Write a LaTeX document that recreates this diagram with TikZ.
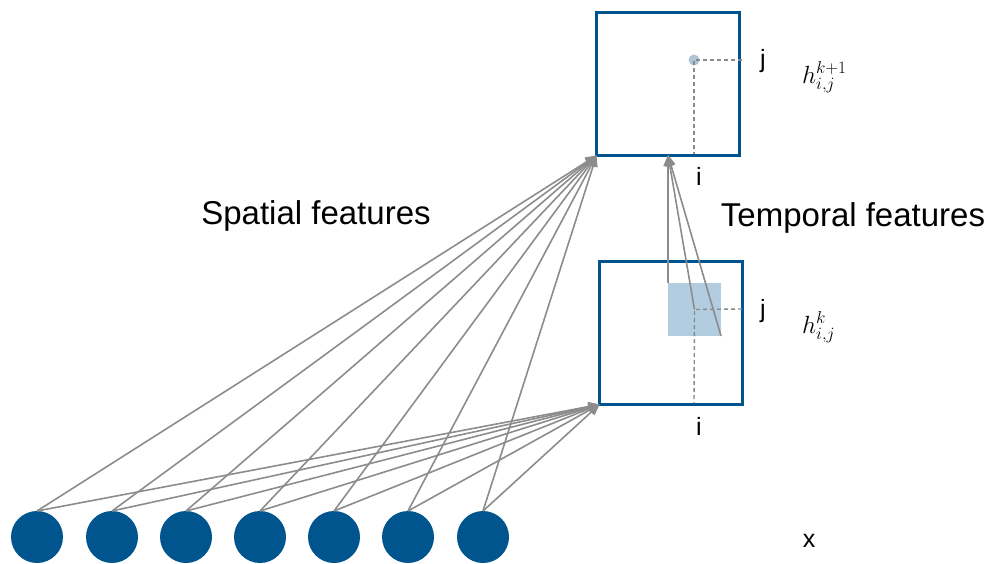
\documentclass[tikz,border=0pt]{standalone}
\usepackage{fontspec}
\setmainfont{Liberation Sans}
\usetikzlibrary{arrows.meta}
\definecolor{boxblue}{HTML}{00558F}
\definecolor{lightblue}{HTML}{B3CDE0}
\definecolor{dotblue}{HTML}{AFC4D8}
\definecolor{linegray}{HTML}{8C8C8C}
\definecolor{dashgray}{HTML}{8A8A8A}
\tikzset{
  layerbox/.style={draw=boxblue, line width=3pt, minimum width=143pt, minimum height=143pt, inner sep=0pt, outer sep=0pt},
  unit/.style={circle, fill=boxblue, minimum size=52pt, inner sep=0pt, outer sep=0pt},
  conn/.style={draw=linegray, line width=1.6pt, -{Triangle[length=11pt,width=9pt]}},
  guide/.style={draw=dashgray, line width=1.4pt, dash pattern=on 4pt off 3pt},
  biglabel/.style={font=\fontsize{33}{38}\selectfont, inner sep=0pt, anchor=base},
  smalllabel/.style={font=\fontsize{25}{30}\selectfont, inner sep=0pt, anchor=base},
  mathlabel/.style={font=\fontsize{27}{32}\selectfont, inner sep=0pt, anchor=base west}
}
\begin{document}
\begin{tikzpicture}[x=1pt,y=-1pt]
\useasboundingbox (0,0) rectangle (990,563);
% boxes
\node[layerbox] (top) at (668,84) {};
\node[layerbox] (bot) at (671,333) {};
% receptive field square
\node[fill=lightblue, minimum width=53pt, minimum height=53pt, inner sep=0pt, outer sep=0pt] (sq) at (694.5,309.5) {};
\node[circle, fill=dotblue, minimum size=11pt, inner sep=0pt] (dot) at (694,60) {};
% guides
\coordinate (tj) at (742,60);
\coordinate (ti) at (694,154);
\coordinate (bj) at (742,309);
\coordinate (bi) at (694,403);
\draw[guide] (tj) -- (dot.center) -- (ti);
\draw[guide] (bj) -- (sq.center) -- (bi);
% inputs
\foreach \i/\x in {1/37,2/112,3/186,4/260,5/334,6/408,7/483}{
  \node[unit] (c\i) at (\x,537) {};
}
\coordinate (tin) at (668,155);
\foreach \i in {1,...,7}{
  \draw[conn] (c\i.north) -- (top.south west);
  \draw[conn] (c\i.north) -- (bot.south west);
}
\draw[conn] (sq.north west) -- (tin);
\draw[conn] (sq.center) -- (tin);
\draw[conn] (sq.south east) -- (tin);
% labels
\node[biglabel] (sp) at (316,224) {Spatial features};
\node[biglabel] (tp) at (853,226) {Temporal features};
\node[smalllabel] (jt) at (763,67) {j};
\node[smalllabel] (it) at (699,185) {i};
\node[smalllabel] (jb) at (763,317) {j};
\node[smalllabel] (ib) at (699,435) {i};
\node[smalllabel] (xl) at (809,547) {x};
\node[mathlabel] (ht) at (802,83) {$h_{i,j}^{k+1}$};
\node[mathlabel] (hb) at (802,333) {$h_{i,j}^{k}$};
\end{tikzpicture}
\end{document}
